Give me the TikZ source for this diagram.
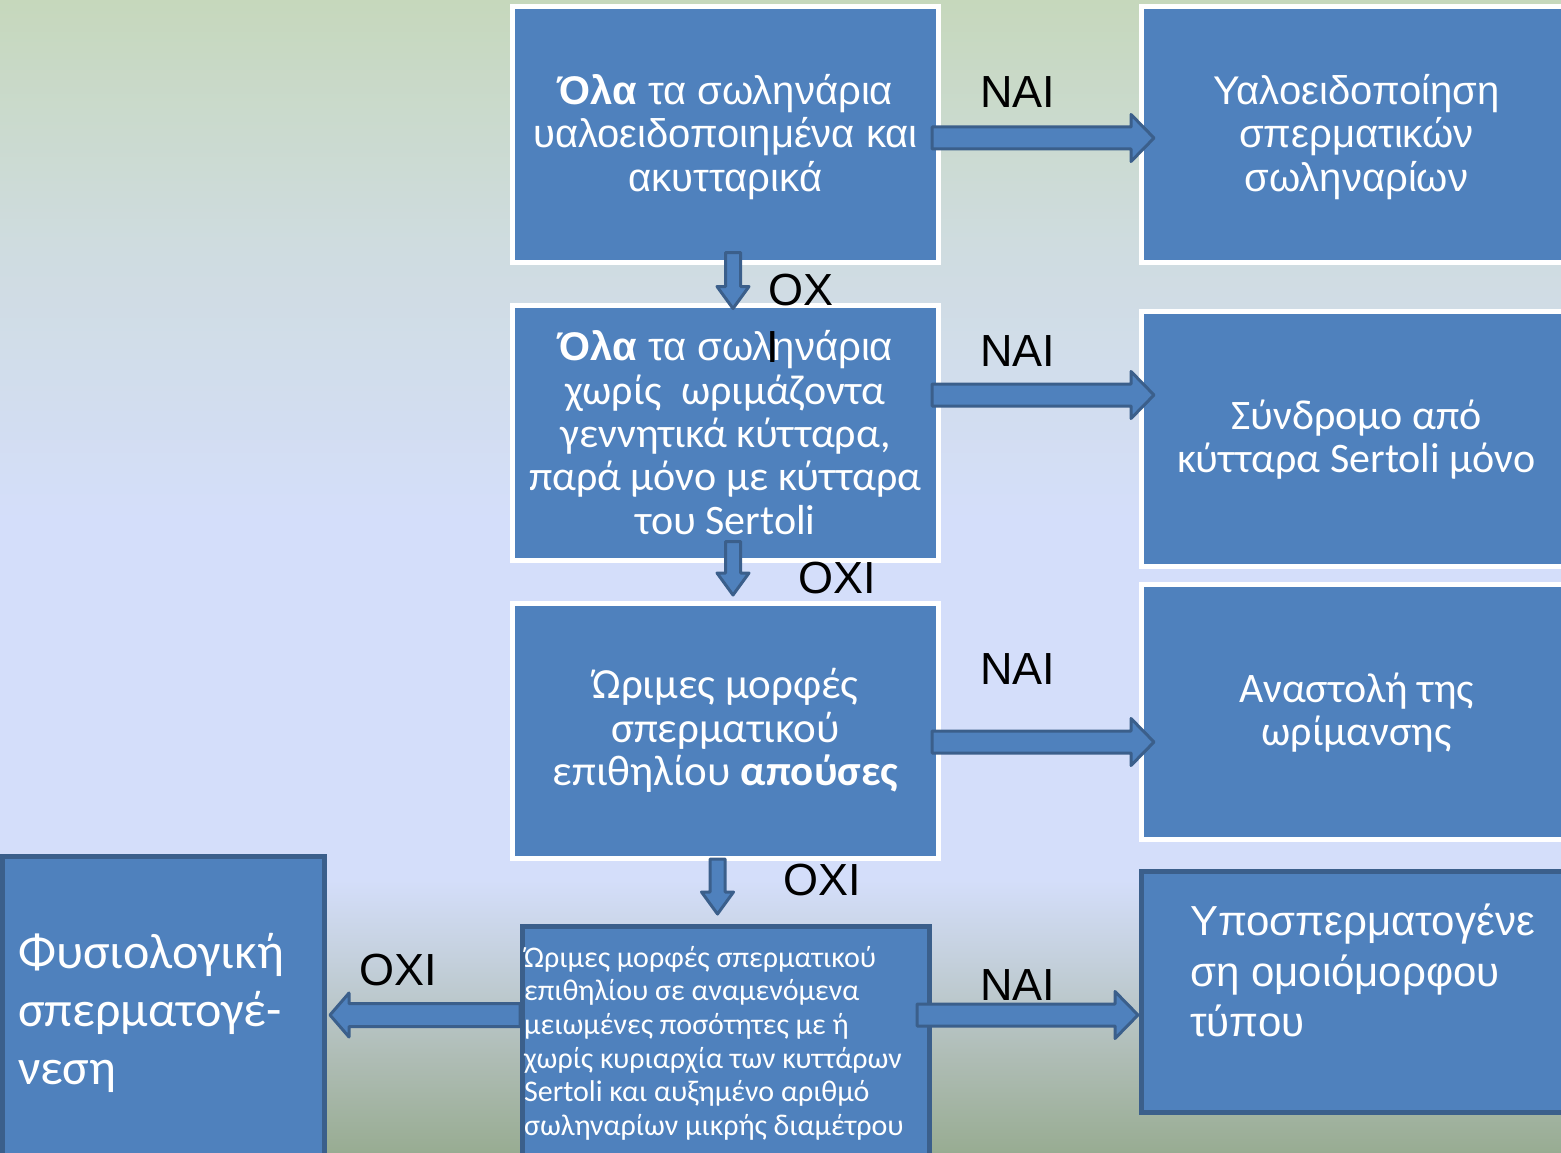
\documentclass[tikz,border=0pt]{standalone}
\usepackage{fontspec}
\setmainfont{Liberation Sans}
\newfontfamily\arifont{Liberation Sans}
\newfontfamily\calfont{Carlito}
\usetikzlibrary{calc}

\definecolor{boxblue}{HTML}{4F81BD}
\definecolor{edgeblue}{HTML}{3B5F8B}
\definecolor{bgtop}{HTML}{C6D8BC}
\definecolor{bgtint}{HTML}{CFDCE0}
\definecolor{bgblue}{HTML}{D4DEFA}
\definecolor{bgmid}{HTML}{C4D0DC}
\definecolor{bglow}{HTML}{AEBCB4}
\definecolor{bgbot}{HTML}{98AC92}

% page background: sage green at the top, pale blue in the middle, grey-green at the bottom
\pgfdeclareverticalshading{pagebg}{100bp}{%
  color(0bp)=(bgbot); color(25bp)=(bgbot); color(29.03bp)=(bglow);
  color(33.37bp)=(bgmid); color(36.84bp)=(bgblue); color(52.45bp)=(bgblue);
  color(64.16bp)=(bgtint); color(75bp)=(bgtop); color(100bp)=(bgtop)}

% block arrow from #1 to #2: shaft half-width #3, head half-width #4, head length #5 (pt)
\newcommand\blockarrow[5]{%
  \draw[arrowbody] let \p1=(#1), \p2=(#2),
      \n1={atan2(\y2-\y1,\x2-\x1)}, \n2={veclen(\x2-\x1,\y2-\y1)-#5} in
    ($(\p1)+(\n1+90:#3pt)$)
    -- ($(\p1)+(\n1:\n2)+(\n1+90:#3pt)$)
    -- ($(\p1)+(\n1:\n2)+(\n1+90:#4pt)$)
    -- (\p2)
    -- ($(\p1)+(\n1:\n2)+(\n1-90:#4pt)$)
    -- ($(\p1)+(\n1:\n2)+(\n1-90:#3pt)$)
    -- ($(\p1)+(\n1-90:#3pt)$) -- cycle;}

\begin{document}
\begin{tikzpicture}[x=1pt,y=-1pt,
  wbox/.style={draw=white, line width=5pt, fill=boxblue, text=white,
    inner sep=0pt, minimum width=426pt, minimum height=255pt, align=center},
  dbox/.style={draw=edgeblue, line width=5pt, fill=boxblue, inner sep=0pt},
  arrowbody/.style={draw=edgeblue, line width=3pt, fill=boxblue, line join=round},
  lbl/.style={anchor=base, inner sep=0pt, text=black, font=\arifont\fontsize{45}{50}\selectfont},
  arial/.style={font=\arifont\fontsize{40}{43.5}\selectfont},
  calib/.style={font=\calfont\fontsize{42}{43.3}\selectfont},
  lefttext/.style={anchor=north west, inner sep=0pt, align=left, text=white}]

\useasboundingbox (0,0) rectangle (1561,1153);
\shade[shading=pagebg] (0,0) rectangle (1561,1153);

% decision boxes in the middle column
\node[wbox, arial, text depth=4pt] (b1) at (725.5,134.5)
  {\textbf{Όλα} τα σωληνάρια\\υαλοειδοποιημένα και\\ακυτταρικά};
\node[wbox, calib] (b2) at (725.5,432.5)
  {{\arifont\fontsize{40}{43.3}\selectfont\textbf{Όλα} τα σωληνάρια}\\χωρίς\ \ ωριμάζοντα\\γεννητικά κύτταρα,\\παρά μόνο με κύτταρα\\του Sertoli};
\node[wbox, font=\calfont\fontsize{43}{43.3}\selectfont, text depth=8pt] (b3) at (725.5,731)
  {Ώριμες μορφές\\σπερματικού\\επιθηλίου \textbf{απούσες}};
\node[dbox, minimum width=407pt, minimum height=253pt] (b4) at (726,1053) {};

% outcome boxes on the right
\node[wbox, arial, text depth=4pt, minimum width=430pt, minimum height=256pt] (r1) at (1356.5,134.5)
  {Υαλοειδοποίηση\\σπερματικών\\σωληναρίων};
\node[wbox, calib, text depth=6pt, minimum width=430pt] (r2) at (1356.5,439)
  {Σύνδρομο από\\κύτταρα Sertoli μόνο};
\node[wbox, calib, text depth=5pt, minimum width=430pt] (r3) at (1356.5,712)
  {Αναστολή της\\ωρίμανσης};
\node[dbox, minimum width=430pt, minimum height=241pt] (r4) at (1356.5,992) {};
\node[dbox, minimum width=322pt, minimum height=323pt] (lf) at (163.5,1018) {};

% texts of the lower boxes
\node[lefttext, font=\calfont\fontsize{30}{33.6}\selectfont] (t4) at (524,946)
  {Ώριμες μορφές σπερματικού\\επιθηλίου σε αναμενόμενα\\μειωμένες ποσότητες με ή\\χωρίς κυριαρχία των κυττάρων\\Sertoli και αυξημένο αριθμό\\σωληναρίων μικρής διαμέτρου};
\node[lefttext, font=\arifont\fontsize{42}{50.5}\selectfont] (tr4) at (1190,904)
  {Υποσπερματογένε\\ση ομοιόμορφου\\τύπου};
\node[lefttext, font=\calfont\fontsize{50}{58}\selectfont] (tl) at (18,933)
  {Φυσιολογική\\σπερματογέ-\\νεση};

% answer labels
\node[lbl] (nai1) at (1017.5,108) {NAI};
\node[lbl] (nai2) at (1017.5,366) {NAI};
\node[lbl] (nai3) at (1017.5,684) {NAI};
\node[lbl] (nai4) at (1017.5,1000) {NAI};
\node[lbl] (oxi1) at (801,305) {OX};
\node[lbl] (oxi1b) at (773,362) {I};
\node[lbl] (oxi2) at (837,593) {OXI};
\node[lbl] (oxi3) at (822,895) {OXI};
\node[lbl] (oxi4) at (398,985) {OXI};

% block arrows
\blockarrow{$(b1.east)+(-9,3.5)$}{$(r1.west)+(15,3.5)$}{11}{23.5}{23}
\blockarrow{$(b2.east)+(-9,-37.5)$}{$(r2.west)+(15,-44)$}{11}{23.5}{23}
\blockarrow{$(b3.east)+(-9,11)$}{$(r3.west)+(15,30)$}{11}{23.5}{23}
\blockarrow{$(b4.east)+(-15,-38)$}{$(r4.west)+(-1,23)$}{11}{23.5}{23}
\blockarrow{$(b4.west)+(0,-38)$}{$(lf.east)+(3,-3)$}{11.5}{22}{19}
\blockarrow{$(b1.south)+(7.5,-12)$}{$(b2.north)+(7.5,6)$}{7.5}{16}{22}
\blockarrow{$(b2.south)+(7.5,-21)$}{$(b3.north)+(7.5,-6)$}{7.5}{16}{22}
\blockarrow{$(b3.south)+(-8,-2)$}{$(b4.north)+(-8.5,-10)$}{7.5}{16}{22}
\end{tikzpicture}
\end{document}
